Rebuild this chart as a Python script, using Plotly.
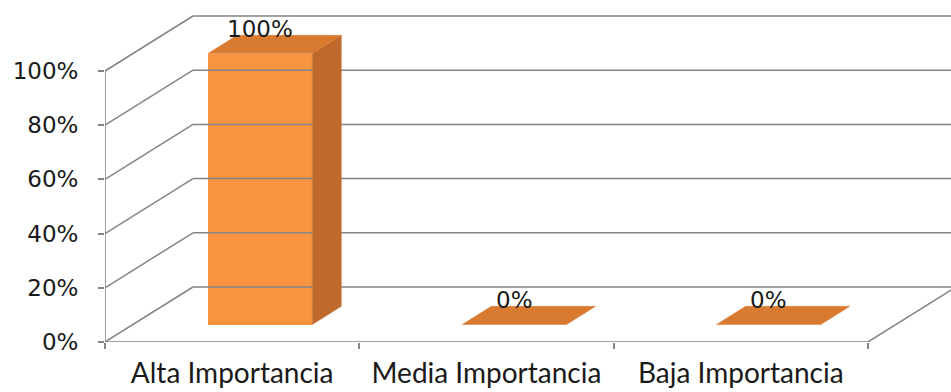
import plotly.graph_objects as go

# Survey result: share of answers per importance level
categories = ["Alta Importancia", "Media Importancia", "Baja Importancia"]
values = [100, 0, 0]
y_ticks = [0, 20, 40, 60, 80, 100]

# Pseudo-3D geometry in data units (x: category index, y: percent)
DX, DY = 0.346, 20.3        # depth vector of the floor / side wall
F_FRONT, F_BACK = 0.318, 0.648  # depth fractions of bar front and back faces
BAR_W = 0.41

FRONT = "#F8943F"
SIDE = "#BF6A2C"
TOP = "#D97A31"
GRID = "#858585"

fig = go.Figure()

def line(xs, ys, width=1.5):
    fig.add_trace(go.Scatter(x=xs, y=ys, mode="lines",
                             line=dict(color=GRID, width=width),
                             hoverinfo="skip", showlegend=False))

# back wall gridlines and side wall diagonals
for v in y_ticks:
    line([-0.5 + DX, 3.2], [v + DY, v + DY])
    line([-0.5, -0.5 + DX], [v, v + DY])
# front vertical axis
line([-0.5, -0.5], [0, max(y_ticks)])
# floor front edge and right edge
n = len(categories)
line([-0.5, n - 0.5, n - 0.5 + DX], [0, 0, DY])

ddx = (F_BACK - F_FRONT) * DX
for i, v in enumerate(values):
    cx = i + F_FRONT * DX
    x0, x1 = cx - BAR_W / 2, cx + BAR_W / 2
    yb = F_FRONT * DY
    yt = v + F_FRONT * DY
    ytb = v + F_BACK * DY
    # side face
    if v > 0:
        fig.add_trace(go.Scatter(
            x=[x1, x1, x1 + ddx, x1 + ddx, x1],
            y=[yb, yt, ytb, F_BACK * DY, yb],
            fill="toself", fillcolor=SIDE, mode="lines",
            line=dict(color=SIDE, width=0.5),
            hoverinfo="skip", showlegend=False))
    # top face
    fig.add_trace(go.Scatter(
        x=[x0, x1, x1 + ddx, x0 + ddx, x0],
        y=[yt, yt, ytb, ytb, yt],
        fill="toself", fillcolor=TOP, mode="lines",
        line=dict(color=TOP, width=0.5),
        hoverinfo="skip", showlegend=False))

# front faces as real bars
fig.add_trace(go.Bar(
    x=[i + F_FRONT * DX for i in range(n)], y=values,
    base=[F_FRONT * DY] * n, width=BAR_W,
    marker=dict(color=FRONT, line=dict(width=0)),
    hoverinfo="skip", showlegend=False))

# value labels above each bar
for i, v in enumerate(values):
    fig.add_annotation(x=i + F_FRONT * DX, y=v + F_BACK * DY, text=f"{v}%",
                       showarrow=False, yanchor="middle", yshift=6,
                       font=dict(family="DejaVu Sans", size=23, color="#1a1a1a"))

fig.update_layout(
    width=951, height=392,
    margin=dict(l=105, r=0, t=0, b=50),
    paper_bgcolor="white", plot_bgcolor="white",
    bargap=0,
    xaxis=dict(range=[-0.5, -0.5 + 846 / 254.3], showgrid=False, zeroline=False,
               showline=False, tickmode="array", tickvals=list(range(n)),
               ticktext=categories, ticks="",
               tickfont=dict(family="Lato", size=28, color="#1a1a1a"),
               ticklabelstandoff=12,
               minor=dict(tickmode="array", tickvals=[k - 0.5 for k in range(n + 1)],
                          ticks="outside", ticklen=6, tickcolor=GRID, tickwidth=1.5)),
    yaxis=dict(range=[0, 342 / 2.71], showgrid=False, zeroline=False,
               showline=False, tickmode="array", tickvals=y_ticks,
               ticktext=[f"{v}%" for v in y_ticks], ticks="outside",
               ticklen=6, tickcolor=GRID, tickwidth=1.5,
               tickfont=dict(family="DejaVu Sans", size=23, color="#1a1a1a"),
               ticklabelstandoff=15),
)

fig.write_html("out.html")
